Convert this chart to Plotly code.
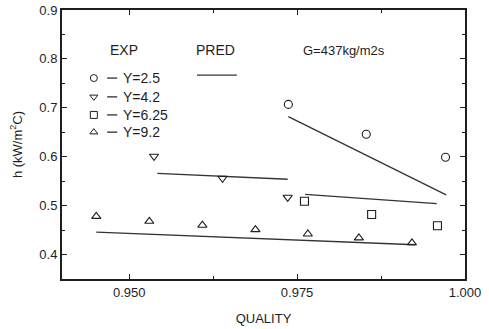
import plotly.graph_objects as go

# Experimental data (quality, h in kW/m2C)
x_y25 = [0.9737, 0.9853, 0.9971]
h_y25 = [0.707, 0.646, 0.599]
x_y42 = [0.9537, 0.9639, 0.9736]
h_y42 = [0.601, 0.556, 0.517]
x_y625 = [0.9761, 0.9861, 0.9959]
h_y625 = [0.509, 0.482, 0.459]
x_y92 = [0.9451, 0.9530, 0.9609, 0.9688, 0.9766, 0.9842, 0.9921]
h_y92 = [0.478, 0.468, 0.460, 0.451, 0.442, 0.434, 0.424]

# Predicted lines
px_y25 = [0.9737, 0.9972]
ph_y25 = [0.682, 0.522]
px_y42 = [0.9542, 0.9736]
ph_y42 = [0.566, 0.554]
px_y625 = [0.9762, 0.9958]
ph_y625 = [0.523, 0.504]
px_y92 = [0.9451, 0.9926]
ph_y92 = [0.446, 0.420]

x_ticks = [0.950, 0.975, 1.000]
x_tick_labels = ["0.950", "0.975", "1.000"]
y_ticks = [0.4, 0.5, 0.6, 0.7, 0.8, 0.9]
y_tick_labels = ["0.4", "0.5", "0.6", "0.7", "0.8", "0.9"]

legend_labels = ["Y=2.5", "Y=4.2", "Y=6.25", "Y=9.2"]
symbols = ["circle-open", "triangle-down-open", "square-open", "triangle-up-open"]

INK = "#1e1e1e"
FAM = "Liberation Sans, Arial, sans-serif"
fig = go.Figure()

for xs, hs in [(px_y25, ph_y25), (px_y42, ph_y42), (px_y625, ph_y625), (px_y92, ph_y92)]:
    fig.add_trace(go.Scatter(x=xs, y=hs, mode="lines",
                             line=dict(color="#333333", width=1.3), showlegend=False))

for xs, hs, sym in zip([x_y25, x_y42, x_y625, x_y92], [h_y25, h_y42, h_y625, h_y92], symbols):
    fig.add_trace(go.Scatter(x=xs, y=hs, mode="markers",
                             marker=dict(symbol=sym, size=8, color=INK, line=dict(width=1.1, color=INK)),
                             showlegend=False))

# Hand-made legend on an overlay axis in plot-fraction units
rows_y = [0.747, 0.677, 0.610, 0.546]
fig.add_trace(go.Scatter(x=[0.079] * 4, y=rows_y, mode="markers", xaxis="x2", yaxis="y2",
                         marker=dict(symbol=symbols, size=7, color=INK, line=dict(width=1.0, color=INK)),
                         showlegend=False, hoverinfo="skip"))

ann = []
ann.append(dict(x=0.114, y=0.851, xref="paper", yref="paper", text="EXP", showarrow=False,
                font=dict(family=FAM, size=14, color=INK), xanchor="left", yanchor="middle"))
ann.append(dict(x=0.328, y=0.851, xref="paper", yref="paper", text="PRED", showarrow=False,
                font=dict(family=FAM, size=14, color=INK), xanchor="left", yanchor="middle"))
ann.append(dict(x=0.594, y=0.851, xref="paper", yref="paper", text="G=437kg/m2s", showarrow=False,
                font=dict(family=FAM, size=13, color=INK), xanchor="left", yanchor="middle"))
shapes = [dict(type="line", xref="paper", yref="paper", x0=0.335, x1=0.434, y0=0.758, y1=0.758,
               line=dict(color="#333333", width=1.2))]
for lab, yy in zip(legend_labels, rows_y):
    ann.append(dict(x=0.147, y=yy, xref="paper", yref="paper", text=lab,
                    showarrow=False, font=dict(family=FAM, size=14, color=INK),
                    xanchor="left", yanchor="middle"))
    shapes.append(dict(type="line", xref="paper", yref="paper", x0=0.112, x1=0.137, y0=yy, y1=yy,
                       line=dict(color=INK, width=1.2)))

fig.update_layout(
    width=489, height=329,
    margin=dict(l=62, r=24, t=10, b=50),
    paper_bgcolor="white", plot_bgcolor="white",
    font=dict(family=FAM, size=13, color=INK),
    annotations=ann,
    shapes=shapes,
    xaxis=dict(range=[0.940, 1.000], tickvals=x_ticks, ticktext=x_tick_labels,
               ticks="inside", ticklen=5, tickcolor=INK, showline=True, linecolor=INK, linewidth=2,
               mirror="ticks", showgrid=False, zeroline=False, automargin=False,
               minor=dict(ticks="inside", ticklen=3, dtick=0.0125, tickcolor=INK),
               tickfont=dict(size=13),
               title=dict(text="QUALITY", font=dict(size=13, color=INK), standoff=15)),
    yaxis=dict(range=[0.35, 0.9], tickvals=y_ticks, ticktext=y_tick_labels,
               ticks="inside", ticklen=5, tickcolor=INK, showline=True, linecolor=INK, linewidth=2,
               mirror="ticks", showgrid=False, zeroline=False, automargin=False,
               minor=dict(ticks="inside", ticklen=3, dtick=0.05, tickcolor=INK),
               tickfont=dict(size=13),
               title=dict(text="h (kW/m<sup>2</sup>C)", font=dict(size=13, color=INK), standoff=14)),
    xaxis2=dict(range=[0, 1], overlaying="x", visible=False, fixedrange=True),
    yaxis2=dict(range=[0, 1], overlaying="y", visible=False, fixedrange=True),
)

fig.write_html("out.html")
